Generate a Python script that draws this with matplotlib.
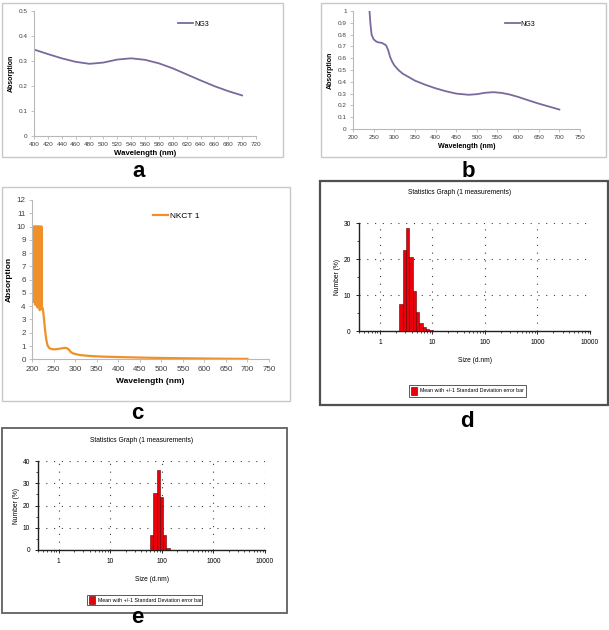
import matplotlib
matplotlib.use("Agg")
import matplotlib.pyplot as plt
from matplotlib.patches import Rectangle
from matplotlib.ticker import FuncFormatter, FixedLocator, NullFormatter
import numpy as np

plt.rcParams['font.family'] = ['Liberation Sans', 'DejaVu Sans']

W, H = 609, 630

# panel a: NG3 visible spectrum
wl_a = [400, 420, 440, 460, 480, 500, 520, 540, 560, 580, 600, 620, 640, 660, 680, 700]
abs_a = [0.345, 0.327, 0.310, 0.296, 0.288, 0.293, 0.305, 0.310, 0.304, 0.290, 0.270, 0.246, 0.222, 0.199, 0.179, 0.162]

# panel b: NG3 full spectrum
wl_b = [240, 242, 245, 250, 255, 260, 270, 280, 285, 290, 295, 300, 310, 320, 335, 350, 375, 400, 425,
        450, 480, 500, 520, 540, 560, 580, 600, 625, 650, 675, 700]
abs_b = [1.0, 0.9, 0.8, 0.76, 0.745, 0.735, 0.73, 0.71, 0.67, 0.61, 0.57, 0.54, 0.5, 0.47, 0.44, 0.41,
         0.375, 0.345, 0.32, 0.3, 0.29, 0.295, 0.307, 0.312, 0.306, 0.292, 0.272, 0.243, 0.215, 0.19, 0.165]

# panel c: NKCT 1 spectrum (saturated / noisy below 225 nm)
wl_c = [200, 201, 202, 203, 204, 205, 206, 207, 208, 209, 210, 211, 212, 213, 214, 215, 216, 217, 218,
        219, 220, 221, 222, 223, 224, 226, 228, 230, 233, 236, 240, 245, 250, 255, 260, 265, 270, 275,
        280, 285, 290, 295, 300, 310, 320, 335, 350, 375, 400, 450, 500, 550, 600, 650, 700]
abs_c = [10, 10, 10, 10, 10, 4.3, 10, 10, 4.1, 10, 10, 4.4, 10, 3.9, 10, 10, 4.0, 10, 3.7, 10, 10, 3.9,
         10, 3.8, 3.9, 3.6, 3.0, 2.3, 1.5, 1.05, 0.85, 0.77, 0.75, 0.76, 0.78, 0.8, 0.83, 0.86,
         0.85, 0.75, 0.55, 0.45, 0.4, 0.33, 0.29, 0.25, 0.22, 0.19, 0.17, 0.13, 0.1, 0.08, 0.06, 0.04, 0.03]

# panel d / e: size distribution by number (bin edges in d.nm)
edges_d = [2.328, 2.696, 3.122, 3.615, 4.187, 4.849, 5.615, 6.503, 7.531, 8.721, 10.1]
num_d = [7.5, 22.5, 28.5, 20.5, 11.0, 5.3, 2.3, 1.1, 0.5, 0.2]
edges_e = [58.77, 68.06, 78.82, 91.28, 105.7, 122.4, 141.8]
num_e = [6.8, 25.5, 36.0, 24.0, 6.8, 1.0]


def px(l, t, r, b):
    return [l / W, 1 - b / H, (r - l) / W, (b - t) / H]


fig = plt.figure(figsize=(W / 100, H / 100), dpi=100)


def frame(l, t, r, b, color, lw):
    fig.patches.append(Rectangle((l / W, 1 - b / H), (r - l) / W, (b - t) / H, transform=fig.transFigure,
                                 fill=False, edgecolor=color, linewidth=lw))


def letter(x, y, s):
    # y is the baseline
    fig.text(x / W, 1 - y / H, s, fontsize=16, fontweight='bold', ha='center', va='baseline')


def excel_axes(ax, fs):
    for s in ['top', 'right']:
        ax.spines[s].set_visible(False)
    for s in ['left', 'bottom']:
        ax.spines[s].set_color('#b8b8b8')
        ax.spines[s].set_linewidth(0.8)
    ax.tick_params(axis='both', labelsize=fs, colors='#b8b8b8', labelcolor='#404040', length=2.5, width=0.6, pad=2)
    ax.yaxis.set_major_formatter(FuncFormatter(lambda v, p: ('%g' % round(v, 2))))


# ---- a ----
frame(2, 3, 283, 157, '#c8c8c8', 1.0)
ax = fig.add_axes(px(34, 10.7, 256, 136))
ax.plot(wl_a, abs_a, color='#7a6a9c', lw=1.3, label='NG3')
ax.set_xlim(400, 720)
ax.set_ylim(0, 0.5)
ax.set_xticks(np.arange(400, 721, 20))
ax.set_yticks(np.arange(0, 0.51, 0.1))
excel_axes(ax, 4.6)
ax.set_ylabel('Absorption', fontsize=5, fontweight='bold', labelpad=3)
ax.set_xlabel('Wavelength (nm)', fontsize=5.6, fontweight='bold', labelpad=2)
ax.legend(loc='upper left', bbox_to_anchor=(0.62, 0.97), frameon=False, fontsize=5, handlelength=2.2,
          handletextpad=0.2)
letter(139, 177, 'a')

# ---- b ----
frame(321, 3, 606, 157, '#c8c8c8', 1.0)
ax = fig.add_axes(px(353, 11, 580, 129))
ax.plot(wl_b, abs_b, color='#7a6a9c', lw=1.3, label='NG3')
ax.set_xlim(200, 750)
ax.set_ylim(0, 1)
ax.set_xticks(np.arange(200, 751, 50))
ax.set_yticks(np.arange(0, 1.01, 0.1))
excel_axes(ax, 4.6)
ax.set_ylabel('Absorption', fontsize=5, fontweight='bold', labelpad=3)
ax.set_xlabel('Wavelength (nm)', fontsize=5.1, fontweight='bold', labelpad=2)
ax.legend(loc='upper left', bbox_to_anchor=(0.64, 0.97), frameon=False, fontsize=5, handlelength=2.2,
          handletextpad=0.1)
letter(468, 177, 'b')

# ---- c ----
frame(2, 187, 290, 401, '#c8c8c8', 1.0)
ax = fig.add_axes(px(32, 200, 269, 359.3))
ax.plot(wl_c, abs_c, color='#f0902a', lw=1.6, label='NKCT 1')
ax.set_xlim(200, 750)
ax.set_ylim(0, 12)
ax.set_xticks(np.arange(200, 751, 50))
ax.set_yticks(np.arange(0, 13, 1))
excel_axes(ax, 5.8)
ax.set_ylabel('Absorption', fontsize=6, fontweight='bold', labelpad=3)
ax.set_xlabel('Wavelength (nm)', fontsize=6, fontweight='bold', labelpad=4)
ax.legend(loc='upper left', bbox_to_anchor=(0.48, 0.97), frameon=False, fontsize=6, handlelength=1.8,
          handletextpad=0.2)
letter(137, 419, 'c')


# ---- d / e: DLS statistics graphs ----
def dls_axes(rect, edges, vals, ymax, fs):
    ax = fig.add_axes(rect)
    e = np.array(edges)
    ax.bar(e[:-1], vals, width=np.diff(e), align='edge', color='#e8000b', edgecolor='#600000', linewidth=0.4,
           zorder=3)
    ax.set_xscale('log')
    ax.set_xlim(0.4, 10000)
    ax.set_ylim(0, ymax)
    ax.set_xticks([1, 10, 100, 1000, 10000])
    ax.set_xticklabels(['1', '10', '100', '1000', '10000'])
    ax.xaxis.set_minor_formatter(NullFormatter())
    ax.set_yticks(np.arange(0, ymax + 1, 10))
    ax.yaxis.set_minor_locator(FixedLocator(np.arange(5, ymax, 10)))
    for s in ['top', 'right']:
        ax.spines[s].set_visible(False)
    for s in ['left', 'bottom']:
        ax.spines[s].set_linewidth(1.0)
        ax.spines[s].set_color('#202020')
    ax.tick_params(axis='both', which='major', labelsize=fs, length=2, width=0.6, pad=4)
    ax.tick_params(axis='both', which='minor', length=1.2, width=0.5)
    ax.grid(True, which='major', color='#404040', linestyle=(0, (1, 6)), linewidth=0.8, zorder=0)
    ax.set_axisbelow(True)
    ax.set_ylabel('Number (%)', fontsize=fs, labelpad=2)
    ax.set_xlabel('Size (d.nm)', fontsize=fs, labelpad=8)
    return ax


frame(320, 181, 608, 405, '#505050', 1.6)
ax = dls_axes(px(359, 223, 590, 331), edges_d, num_d, 30, 4.8)
fig.text(460 / W, 1 - 193 / H, 'Statistics Graph (1 measurements)', fontsize=4.8, ha='center', va='center')
fig.patches.append(Rectangle((409 / W, 1 - 397 / H), 117 / W, 12 / H, transform=fig.transFigure,
                             fill=False, edgecolor='#404040', linewidth=0.6))
fig.patches.append(Rectangle((411 / W, 1 - 395 / H), 6 / W, 8 / H, transform=fig.transFigure,
                             facecolor='#e8000b', edgecolor='#400000', linewidth=0.4))
fig.text(420 / W, 1 - 391 / H, 'Mean with +/-1 Standard Deviation error bar', fontsize=3.8, va='center')
letter(467, 427, 'd')

frame(2, 428, 287, 613, '#606060', 1.3)
ax = dls_axes(px(38.3, 461, 265, 550), edges_e, num_e, 40, 4.8)
fig.text(142 / W, 1 - 441 / H, 'Statistics Graph (1 measurements)', fontsize=4.8, ha='center', va='center')
fig.patches.append(Rectangle((87 / W, 1 - 605 / H), 115 / W, 10 / H, transform=fig.transFigure,
                             fill=False, edgecolor='#404040', linewidth=0.6))
fig.patches.append(Rectangle((89 / W, 1 - 604 / H), 6 / W, 8 / H, transform=fig.transFigure,
                             facecolor='#e8000b', edgecolor='#400000', linewidth=0.4))
fig.text(98 / W, 1 - 600 / H, 'Mean with +/-1 Standard Deviation error bar', fontsize=3.8, va='center')
letter(137, 623, 'e')

fig.savefig('out.png', dpi=100)
